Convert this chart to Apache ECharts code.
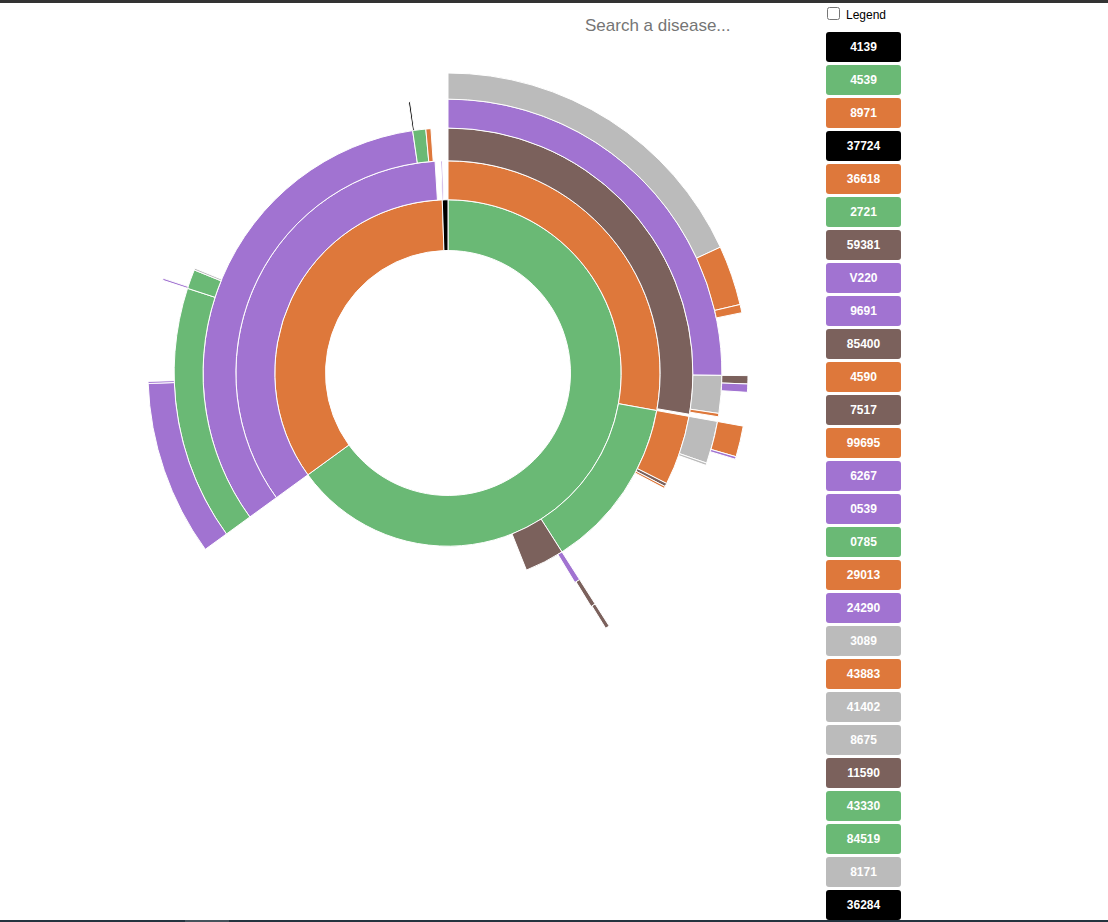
<!DOCTYPE html>
<html>
<head>
<meta charset="utf-8">
<title>Disease sequences sunburst</title>
<script src="https://cdn.jsdelivr.net/npm/echarts@6/dist/echarts.min.js"></script>
<style>
  html, body { margin: 0; padding: 0; width: 1108px; height: 922px; overflow: hidden; background: #fff;
    font-family: "Liberation Sans", Arial, sans-serif; }
  #chart { position: absolute; left: 0; top: 0; width: 1108px; height: 922px; z-index: 1; }
  #topbar { position: absolute; left: 0; top: 0; width: 1108px; height: 3px; background: #333; z-index: 3; }
  #botbar { position: absolute; left: 0; top: 920px; width: 1108px; height: 2px; background: #24343f; z-index: 3; }
  #botbar span { position: absolute; left: 185px; top: 0; width: 44px; height: 2px; background: #45535c; }
  #search { position: absolute; left: 583px; top: 14px; width: 220px; height: 24px; border: none; outline: none;
    padding: 0 2px; margin: 0; background: transparent; font: 17px "Liberation Sans", Arial, sans-serif; color: #333; z-index: 2; }
  #search::placeholder { color: #757575; }
  #legendToggle { position: absolute; left: 827px; top: 7px; width: 13px; height: 13px; margin: 0; z-index: 2; }
  #legendLabel { position: absolute; left: 846px; top: 8px; font: 12px "Liberation Sans", Arial, sans-serif;
    line-height: 14px; color: #000; z-index: 2; }
</style>
</head>
<body>
<div id="chart"></div>
<div id="topbar"></div>
<div id="botbar"><span></span></div>
<input id="search" type="text" placeholder="Search a disease...">
<input id="legendToggle" type="checkbox">
<label id="legendLabel" for="legendToggle">Legend</label>
<script>
// ---- Legend (diagnosis codes and their colours) ----
const legendCodes = ["4139", "4539", "8971", "37724", "36618", "2721", "59381", "V220", "9691", "85400",
  "4590", "7517", "99695", "6267", "0539", "0785", "29013", "24290", "3089", "43883",
  "41402", "8675", "11590", "43330", "84519", "8171", "36284"];
const legendColors = ["#000000", "#6ab975", "#de783b", "#000000", "#de783b", "#6ab975", "#7b615c", "#a173d1", "#a173d1", "#7b615c",
  "#de783b", "#7b615c", "#de783b", "#a173d1", "#a173d1", "#6ab975", "#de783b", "#a173d1", "#bbbbbb", "#de783b",
  "#bbbbbb", "#bbbbbb", "#7b615c", "#6ab975", "#6ab975", "#bbbbbb", "#000000"];

// ---- Sunburst rings (values = share of sequences; parents index into previous ring) ----
const ring1Codes   = ["4539", "8971", "4139"];
const ring1Values  = [234.0, 124.1, 1.9];

const ring2Codes   = ["36618", "2721", "59381", "V220", "9691"];
const ring2Values  = [100.2, 47.3, 10.8, 122.5, 0.4];
const ring2Parents = [0, 0, 0, 1, 2];

const ring3Codes   = ["85400", "4590", "7517", "99695", "6267", "0539", "0785", "29013"];
const ring3Values  = [99.7, 16.6, 0.8, 0.5, 1.3, 117.7, 3.1, 1.2];
const ring3Parents = [0, 1, 1, 1, 2, 3, 3, 3];

const ring4Codes   = ["24290", "3089", "43883", "41402", "8675", "11590", "43330", "84519", "8171", "37724"];
const ring4Values  = [90.5, 8.0, 0.7, 9.0, 0.5, 1.0, 54.0, 4.1, 0.4, 0.4];
const ring4Parents = [0, 0, 0, 1, 1, 4, 5, 5, 5, 6];

const ring5Codes   = ["41402", "36618", "4590", "59381", "V220", "8971", "9691", "85400", "6267", "0539", "24290"];
const ring5Values  = [65.2, 11.6, 1.6, 1.6, 1.6, 6.0, 0.5, 0.8, 34.0, 0.4, 0.4];
const ring5Parents = [0, 0, 0, 1, 1, 3, 3, 5, 6, 6, 7];

// ---- Build tree ----
function colorOf(code) {
  const i = legendCodes.indexOf(code);
  return i >= 0 ? legendColors[i] : "#bbbbbb";
}
const rings = [
  [ring1Codes, ring1Values, null],
  [ring2Codes, ring2Values, ring2Parents],
  [ring3Codes, ring3Values, ring3Parents],
  [ring4Codes, ring4Values, ring4Parents],
  [ring5Codes, ring5Values, ring5Parents]
];
let topNodes = null, prevNodes = null;
rings.forEach(function (ring, k) {
  const nodes = ring[0].map(function (c, i) {
    return { name: c, value: ring[1][i], itemStyle: { color: colorOf(c) } };
  });
  if (k === 0) {
    topNodes = nodes;
  } else {
    nodes.forEach(function (n, i) {
      const p = prevNodes[ring[2][i]];
      (p.children || (p.children = [])).push(n);
    });
  }
  prevNodes = nodes;
});

// ring radii: sqrt partition of a 300px radius into 6 depths (root hidden)
const R = 300, depthCount = 6;
const levels = [{}];
for (let k = 1; k < depthCount; k++) {
  levels.push({ r0: R * Math.sqrt(k / depthCount), r: R * Math.sqrt((k + 1) / depthCount) });
}

// ---- Legend boxes as graphic elements ----
const legendEls = [];
legendCodes.forEach(function (c, i) {
  const y = 32 + i * 33;
  legendEls.push({
    type: "rect", silent: true,
    shape: { x: 826, y: y, width: 75, height: 30, r: 3 },
    style: { fill: legendColors[i] }
  });
  legendEls.push({
    type: "text", silent: true,
    x: 863.5, y: y + 15,
    style: { text: c, fill: "#fff", font: 'bold 12px "Liberation Sans", Arial, sans-serif',
      align: "center", verticalAlign: "middle", textAlign: "center", textVerticalAlign: "middle" }
  });
});

const chart = echarts.init(document.getElementById("chart"), null, { renderer: "svg" });
chart.setOption({
  animation: false,
  series: [{
    type: "sunburst",
    center: [448, 373],
    radius: [0, R],
    sort: null,
    startAngle: 90,
    clockwise: true,
    nodeClick: false,
    data: topNodes,
    levels: levels,
    label: { show: false },
    itemStyle: { borderColor: "#fff", borderWidth: 1 },
    emphasis: { disabled: true }
  }],
  graphic: { elements: legendEls }
});
</script>
</body>
</html>
